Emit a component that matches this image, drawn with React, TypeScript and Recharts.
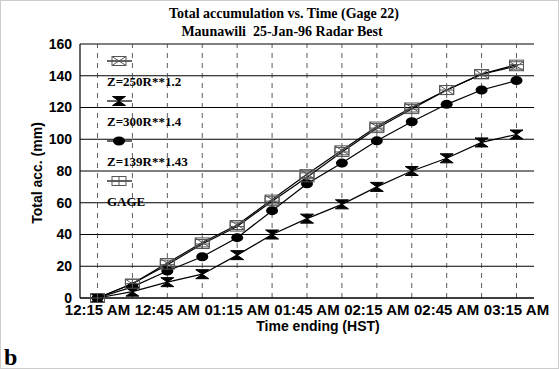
import { LineChart, Line, XAxis, YAxis, CartesianGrid, ReferenceLine, Legend } from "recharts";

const times = [
  "12:15 AM", "12:30 AM", "12:45 AM", "01:00 AM", "01:15 AM", "01:30 AM", "01:45 AM",
  "02:00 AM", "02:15 AM", "02:30 AM", "02:45 AM", "03:00 AM", "03:15 AM",
];
const z250 = [0, 9, 22, 35, 46, 62, 78, 93, 108, 120, 131, 141, 146];
const z300 = [0, 4, 10, 15, 27, 40, 50, 59, 70, 80, 88, 98, 103];
const z139 = [0, 7, 17, 26, 38, 55, 72, 85, 99, 111, 122, 131, 137];
const gage = [0, 9, 21, 34, 45, 61, 76, 92, 107, 119, 131, 141, 147];
const yTicks = [0, 20, 40, 60, 80, 100, 120, 140, 160];

const data = times.map((time, i) => ({
  time,
  z250: z250[i],
  z300: z300[i],
  z139: z139[i],
  gage: gage[i],
}));

type Kind = "xbox" | "bowtie" | "circle" | "plusbox";

const series: { key: string; name: string; kind: Kind }[] = [
  { key: "z250", name: "Z=250R**1.2", kind: "xbox" },
  { key: "z300", name: "Z=300R**1.4", kind: "bowtie" },
  { key: "z139", name: "Z=139R**1.43", kind: "circle" },
  { key: "gage", name: "GAGE", kind: "plusbox" },
];

const serif = "'Liberation Serif', 'Times New Roman', serif";
const sans = "'Liberation Sans', Arial, sans-serif";

function Marker({ kind, cx, cy }: { kind: Kind; cx: number; cy: number }) {
  const w = 6.5;
  const h = 4.5;
  if (kind === "bowtie") {
    return (
      <path
        d={`M${cx - w},${cy - h} L${cx + w},${cy - h} L${cx - w},${cy + h} L${cx + w},${cy + h} Z`}
        fill="#000"
        stroke="#000"
      />
    );
  }
  if (kind === "circle") {
    return <ellipse cx={cx} cy={cy} rx={6} ry={4.5} fill="#000" />;
  }
  const box = (
    <rect x={cx - 7} y={cy - h} width={14} height={h * 2} fill="none" stroke="#555" strokeWidth={1} />
  );
  if (kind === "xbox") {
    return (
      <g>
        {box}
        <path
          d={`M${cx - 7},${cy - h} L${cx + 7},${cy + h} M${cx - 7},${cy + h} L${cx + 7},${cy - h}`}
          stroke="#555"
          strokeWidth={1}
        />
      </g>
    );
  }
  return (
    <g>
      {box}
      <path d={`M${cx - 7},${cy} L${cx + 7},${cy} M${cx},${cy - h} L${cx},${cy + h}`} stroke="#555" strokeWidth={1} />
    </g>
  );
}

function LegendBox() {
  return (
    <svg width={130} height={165}>
      {series.map((s, i) => {
        const my = 10 + 40 * i;
        return (
          <g key={s.key}>
            <line x1={6} x2={31} y1={my} y2={my} stroke="#000" strokeWidth={1.2} />
            <Marker kind={s.kind} cx={18} cy={my} />
            <text
              x={6}
              y={my + 20}
              dominantBaseline="central"
              fontFamily={serif}
              fontWeight="bold"
              fontSize={13}
              fill="#000"
            >
              {s.name}
            </text>
          </g>
        );
      })}
    </svg>
  );
}

const yTickStyle = { fontFamily: sans, fontWeight: "bold", fontSize: 14, fill: "#000" };
const xTickStyle = { fontFamily: sans, fontWeight: "bold", fontSize: 15, fill: "#000" };

export default function App() {
  return (
    <div style={{ position: "absolute", left: 0, top: 0, width: 559, height: 369, background: "#fff", border: "1px solid #ccc", boxSizing: "border-box" }}>
      <div style={{ position: "absolute", left: 0, top: 0 }}>
        <LineChart width={559} height={369} data={data} margin={{ top: 43, right: 26, left: 19, bottom: 42 }}>
          <CartesianGrid vertical={false} stroke="#000" strokeWidth={1.2} />
          {times.map((t) => (
            <ReferenceLine key={t} x={t} stroke="#333" strokeDasharray="5 5" strokeWidth={0.8} />
          ))}
          <XAxis
            dataKey="time"
            interval={1}
            padding={{ left: 17.5, right: 17.5 }}
            tickLine={false}
            tickSize={6}
            tickMargin={0}
            axisLine={{ stroke: "#000", strokeWidth: 1.2 }}
            tick={xTickStyle}
          />
          <YAxis
            width={60}
            domain={[0, 160]}
            ticks={yTicks}
            tickLine={false}
            axisLine={{ stroke: "#000", strokeWidth: 1.2 }}
            tick={yTickStyle}
          />
          <YAxis
            yAxisId="right"
            orientation="right"
            width={0}
            domain={[0, 160]}
            tick={false}
            tickLine={false}
            axisLine={{ stroke: "#000", strokeWidth: 1.2 }}
          />
          <Legend
            layout="vertical"
            align="center"
            verticalAlign="middle"
            content={() => <LegendBox />}
            wrapperStyle={{ position: "absolute", left: 100, top: 50, width: 130, height: 165 }}
          />
          {series.map((s) => (
            <Line
              key={s.key}
              dataKey={s.key}
              name={s.name}
              type="linear"
              stroke="#000"
              strokeWidth={1.2}
              isAnimationActive={false}
              dot={(p: any) => <Marker key={`${s.key}-${p.index}`} kind={s.kind} cx={p.cx} cy={p.cy} />}
              activeDot={false}
            />
          ))}
        </LineChart>
      </div>
      <div style={{ position: "absolute", left: 0, width: 566, top: 5, lineHeight: "16px", textAlign: "center", fontFamily: serif, fontWeight: "bold", fontSize: 14 }}>
        Total accumulation vs. Time (Gage 22)
      </div>
      <div style={{ position: "absolute", left: 0, width: 562, top: 23, lineHeight: "16px", textAlign: "center", fontFamily: serif, fontWeight: "bold", fontSize: 14, whiteSpace: "pre" }}>
        {"Maunawili  25-Jan-96 Radar Best"}
      </div>
      <div style={{ position: "absolute", left: 36, top: 172, transform: "translate(-50%, -50%) rotate(-90deg)", whiteSpace: "nowrap", fontFamily: sans, fontWeight: "bold", fontSize: 14 }}>
        Total acc. (mm)
      </div>
      <div style={{ position: "absolute", left: 317, top: 325, transform: "translate(-50%, -50%)", whiteSpace: "nowrap", fontFamily: sans, fontWeight: "bold", fontSize: 14 }}>
        Time ending (HST)
      </div>
      <div style={{ position: "absolute", left: 3, top: 344, lineHeight: "24px", fontFamily: serif, fontWeight: "bold", fontSize: 24 }}>
        b
      </div>
    </div>
  );
}
